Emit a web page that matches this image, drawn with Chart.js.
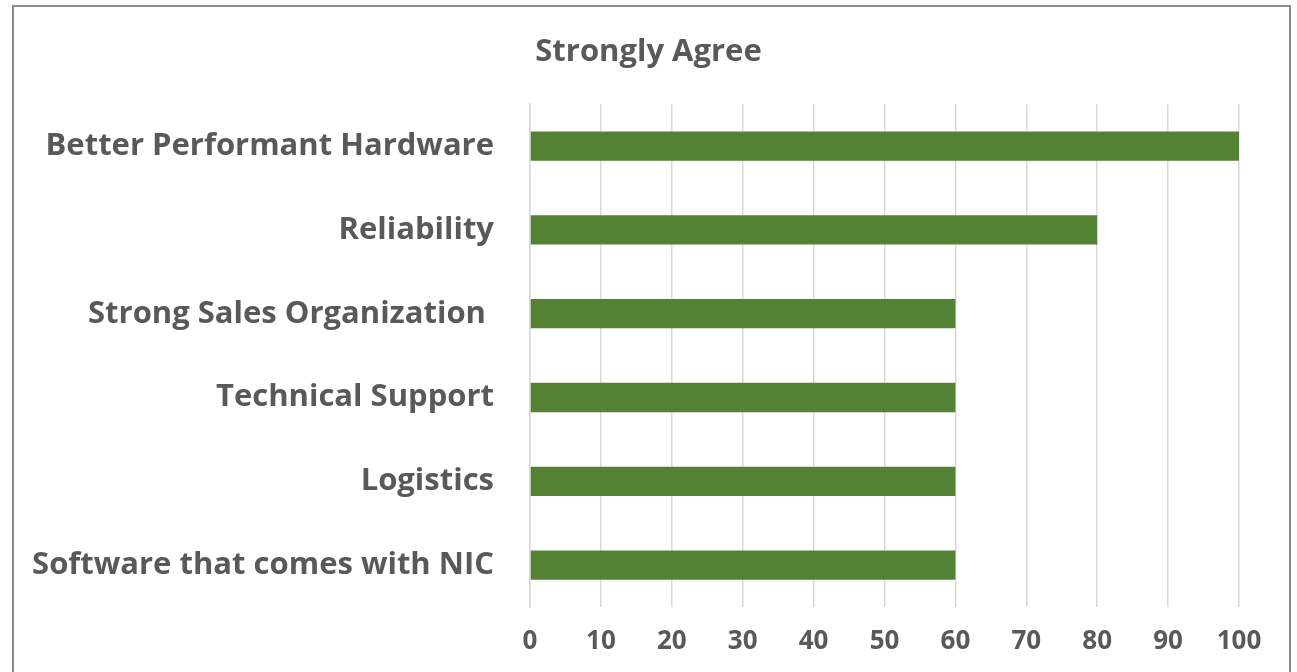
<!DOCTYPE html>
<html><head><meta charset="utf-8">
<script src="https://cdn.jsdelivr.net/npm/chart.js@4"></script>
<style>html,body{margin:0;padding:0;background:#fff;overflow:hidden}#wrap{width:1297px;height:672px;position:relative}</style>
</head><body><div id="wrap"><canvas id="c" width="1297" height="672"></canvas></div>
<script>
const categories = ["Better Performant Hardware","Reliability","Strong Sales Organization ","Technical Support","Logistics","Software that comes with NIC"];
const values = [100,80,60,60,60,60];
const tickValues = [0,10,20,30,40,50,60,70,80,90,100];
const titleText = "Strongly Agree";

const FONT = "'Open Sans', Lato, sans-serif";
const TXT = "#595959";
const PLOT = {left:530, right:1239, top:104, bottom:607};

const borderPlugin = {
  id:'frame',
  beforeDraw(chart){
    const ctx = chart.ctx;
    ctx.save();
    ctx.fillStyle = '#fff';
    ctx.fillRect(0,0,chart.width,chart.height);
    ctx.strokeStyle = '#8c8c8c';
    ctx.lineWidth = 2;
    ctx.strokeRect(13,6,1277,720);
    ctx.restore();
  }
};

new Chart(document.getElementById('c'), {
  type:'bar',
  data:{labels:categories, datasets:[{data:values, backgroundColor:'#548235', borderWidth:0, barPercentage:0.35, categoryPercentage:1}]},
  options:{
    indexAxis:'y', responsive:false, animation:false,
    layout:{padding:{left:0,right:0,top:10,bottom:0}},
    plugins:{
      legend:{display:false}, tooltip:{enabled:false},
      title:{display:true, text:titleText, color:TXT, font:{family:FONT,size:31,weight:'bold'}, padding:{top:24,bottom:104-10-24-37}}
    },
    scales:{
      x:{min:0,max:100, afterBuildTicks(s){s.ticks=tickValues.map(v=>({value:v}));},
         grid:{color:'#d9d9d9',lineWidth:1.5,drawTicks:false}, border:{display:false},
         ticks:{color:TXT,font:{family:FONT,size:26,weight:'bold'},padding:19},
         afterFit(s){s.height=672-PLOT.bottom;}},
      y:{grid:{display:false,drawTicks:false}, border:{display:true,color:'#d9d9d9',width:1.5},
         ticks:{color:TXT,font:{family:FONT,size:31,weight:'bold'},padding:36},
         afterFit(s){s.width=PLOT.left;}},
      yr:{position:'right', axis:'y', type:'category', display:true,
         grid:{display:false,drawTicks:false}, border:{display:false},
         ticks:{display:false},
         afterFit(s){s.width=1297-PLOT.right;}}
    }
  },
  plugins:[borderPlugin]
});
</script></body></html>
